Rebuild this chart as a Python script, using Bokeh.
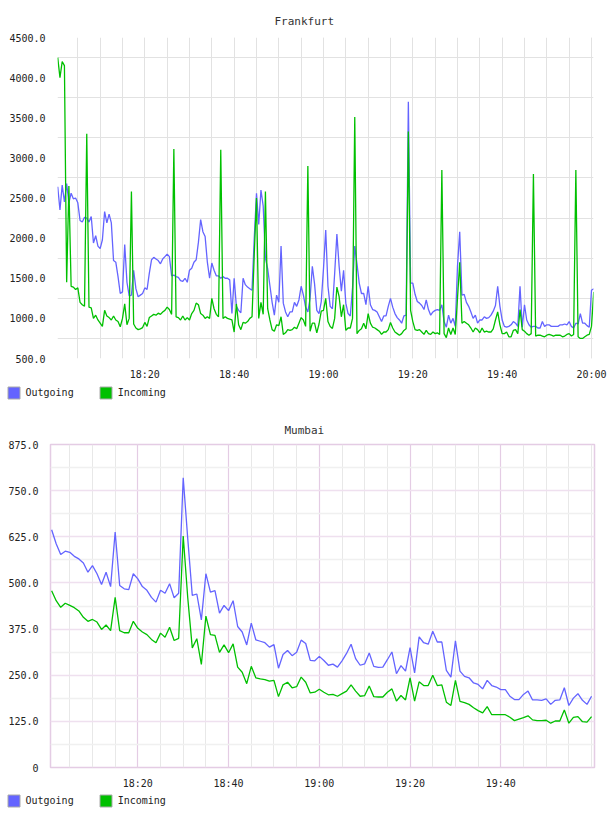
from bokeh.plotting import figure
from bokeh.models import FixedTicker, Range1d, Legend, LegendItem
from bokeh.layouts import column
from bokeh.embed import file_html
from bokeh.resources import INLINE

FONT = "DejaVu Sans Mono"
OUT_COLOR = "#6464ff"
INC_COLOR = "#00c000"

# ---- Frankfurt: samples every 30 s, minutes since midnight ----
fra_minutes = [18 * 60 + 0.5 + 0.5 * i for i in range(241)]
fra_outgoing = [
    2640, 2350, 2660, 2450, 2680, 2440, 2560, 2490, 2500, 2440,
    2220, 2200, 2260, 2250, 2200, 2270, 1940, 2030, 1900, 1870,
    1980, 2330, 2190, 2300, 2190, 1720, 1700, 1520, 1310, 1330,
    1920, 1450, 1280, 1290, 1600, 1370, 1270, 1290, 1310, 1380,
    1360, 1560, 1730, 1760, 1740, 1720, 1680, 1740, 1770, 1800,
    1770, 1530, 1540, 1520, 1510, 1470, 1460, 1500, 1450, 1600,
    1625, 1700, 1730, 1950, 2230, 2080, 2020, 1700, 1500, 1690,
    1600, 1530, 1530, 1500, 1520, 1500, 1500, 1480, 1060, 1500,
    1150, 1100, 1070, 1500, 1420, 1390, 1370, 1350, 2000, 2560,
    2170, 2600, 2400, 1750, 1620, 1410, 1200, 1040, 1290, 1200,
    1900, 1190, 1080, 1020, 1080, 1080, 1200, 1150, 1230, 1400,
    1290, 1140, 1080, 1250, 1650, 1430, 1100, 1060, 1210, 1620,
    2100, 1400, 1150, 1120, 1560, 2050, 1650, 1340, 1600, 1190,
    1060, 1030, 1380, 1900, 1680, 1440, 1310, 1310, 1170, 1400,
    1170, 1110, 1100, 1080, 1020, 960, 1030, 1030, 1150, 1250,
    1140, 1060, 1010, 980, 940, 1030, 1040, 3700, 1440, 1440,
    1300, 1210, 1190, 1160, 1110, 1230, 1110, 1040, 1080, 1100,
    1110, 1100, 1170, 960, 890, 1040, 940, 1000, 900, 1650,
    2080, 1290, 1300, 1200, 1150, 1080, 1000, 1040, 940, 980,
    980, 1020, 1000, 1010, 1040, 1090, 1160, 1400, 1150, 980,
    900, 890, 900, 920, 960, 940, 900, 1400, 890, 1170,
    980, 920, 890, 900, 900, 880, 880, 960, 900, 920,
    920, 900, 900, 900, 900, 920, 920, 930, 920, 960,
    900, 880, 940, 930, 1060, 940, 940, 910, 890, 1350,
    1370,
]
fra_incoming = [
    4250, 4000, 4200, 4150, 1450, 2650, 1400, 1390, 1360, 1380,
    1200, 1170, 1150, 3300, 1140, 1130, 1000, 1040, 980, 940,
    900, 1100, 1030, 1010, 980, 1030, 980, 960, 896, 1000,
    1180, 920, 1000, 2580, 930, 880, 860, 870, 885, 950,
    900, 1010, 1030, 1050, 1040, 1065, 1050, 1080, 1100, 1140,
    1110, 1050, 3110, 1020, 1010, 980, 1030, 980, 1010, 980,
    1060, 1100, 1190, 1170, 1060, 1040, 1000, 1020, 1000, 1250,
    1120, 1050, 1020, 3100, 1000, 1020, 1000, 990, 980, 830,
    1180, 920, 860, 950, 940, 960, 1000, 1020, 1800, 2500,
    1000, 1200, 1050, 2580, 1120, 980, 860, 840, 920, 910,
    1020, 800, 820, 860, 850, 860, 890, 870, 940, 1010,
    980, 900, 2900, 840, 940, 940, 820, 930, 1090, 1100,
    1250, 960, 900, 875, 1000, 1390, 1270, 1020, 1170, 850,
    880, 880, 1000, 3510, 810, 850, 870, 940, 870, 1060,
    940, 890, 880, 860, 840, 800, 830, 830, 860, 950,
    880, 830, 810, 790, 810, 850, 870, 3330, 1100, 960,
    860, 850, 860, 830, 800, 850, 810, 800, 830, 810,
    820, 800, 2850, 810, 760, 880, 800, 880, 800, 1250,
    1700, 940, 960, 940, 920, 880, 830, 880, 860, 820,
    880, 830, 840, 830, 830, 870, 980, 1080, 920, 810,
    810, 830, 770, 770, 850, 860, 810, 1110, 860, 840,
    810, 790, 810, 2800, 780, 790, 790, 780, 770, 790,
    800, 790, 780, 790, 790, 790, 770, 780, 800, 810,
    780, 800, 2850, 770, 750, 750, 770, 790, 800, 900,
    1330,
]

# ---- Mumbai: one sample per minute ----
mum_minutes = [18 * 60 + 1 + i for i in range(120)]
mum_outgoing = [
    644, 606, 577, 586, 583, 572, 565, 554, 529, 547,
    525, 496, 529, 490, 638, 493, 484, 482, 525, 511,
    490, 480, 461, 448, 480, 472, 498, 460, 472, 785,
    620, 466, 470, 400, 525, 475, 479, 418, 439, 425,
    452, 382, 367, 332, 391, 346, 342, 338, 326, 333,
    269, 306, 317, 303, 312, 345, 336, 290, 289, 301,
    290, 277, 280, 272, 289, 309, 334, 295, 277, 281,
    310, 274, 271, 272, 292, 313, 254, 276, 261, 325,
    256, 354, 338, 334, 369, 340, 340, 263, 245, 343,
    261, 247, 243, 229, 225, 213, 236, 222, 218, 211,
    211, 193, 184, 184, 198, 207, 183, 183, 182, 186,
    171, 182, 183, 216, 168, 188, 200, 182, 171, 193,
]
mum_incoming = [
    479, 452, 434, 445, 439, 433, 424, 407, 396, 401,
    394, 374, 386, 371, 461, 371, 365, 365, 396, 377,
    367, 360, 347, 338, 364, 353, 380, 344, 350, 627,
    460, 324, 349, 279, 410, 360, 358, 312, 332, 311,
    335, 272, 258, 227, 274, 243, 240, 238, 234, 236,
    192, 224, 231, 216, 219, 245, 231, 202, 204, 212,
    204, 197, 198, 193, 200, 207, 224, 207, 193, 195,
    221, 192, 191, 191, 204, 213, 180, 195, 183, 243,
    180, 232, 222, 222, 250, 222, 224, 177, 168, 236,
    179, 176, 171, 162, 154, 148, 165, 143, 143, 143,
    143, 136, 127, 131, 135, 140, 129, 127, 127, 128,
    120, 126, 126, 156, 120, 136, 138, 124, 123, 138,
]

# ---- axis ticks ----
time_ticks = [1100, 1120, 1140, 1160, 1180, 1200]
time_labels = ["18:20", "18:40", "19:00", "19:20", "19:40", "20:00"]
time_grid = list(range(1085, 1201, 5))

fra_y_ticks = [500, 1000, 1500, 2000, 2500, 3000, 3500, 4000, 4500]
fra_y_labels = ["500.0", "1000.0", "1500.0", "2000.0", "2500.0",
                "3000.0", "3500.0", "4000.0", "4500.0"]
fra_y_grid = [750, 1250, 1750, 2250, 2750, 3250, 3750, 4250]

mum_y_ticks = [0, 125, 250, 375, 500, 625, 750, 875]
mum_y_labels = ["0", "125.0", "250.0", "375.0", "500.0", "625.0", "750.0", "875.0"]
mum_y_grid = [62.5, 187.5, 312.5, 437.5, 562.5, 687.5, 812.5]

series_names = ["Outgoing", "Incoming"]
series_colors = [OUT_COLOR, INC_COLOR]


def traffic_chart(title, minutes, outgoing, incoming, x_range, y_range,
                  x_ticks, x_labels, y_ticks, y_labels, y_grid,
                  borders, frame, title_offset, title_standoff, framed):
    left, right, top, bottom = borders
    p = figure(frame_width=frame[0], frame_height=frame[1],
               x_range=Range1d(*x_range), y_range=Range1d(*y_range),
               output_backend="svg", toolbar_location=None,
               min_border_left=left, min_border_right=right,
               min_border_top=top, min_border_bottom=bottom,
               frame_align=False,
               background_fill_color="white", border_fill_color="white")

    p.title.text = title
    p.title.align = "left"
    p.title.offset = title_offset
    p.title.standoff = title_standoff
    p.title.text_font = FONT
    p.title.text_font_size = "11px"
    p.title.text_font_style = "normal"
    p.title.text_color = "#333333"

    xt = FixedTicker(ticks=x_ticks, minor_ticks=time_grid)
    yt = FixedTicker(ticks=y_ticks, minor_ticks=y_grid)
    p.xaxis.ticker = xt
    p.xgrid.ticker = xt
    p.yaxis.ticker = yt
    p.ygrid.ticker = yt
    p.xaxis.major_label_overrides = dict(zip(x_ticks, x_labels))
    p.yaxis.major_label_overrides = dict(zip(y_ticks, y_labels))

    for ax in (p.xaxis, p.yaxis):
        ax.axis_line_color = None
        ax.major_tick_line_color = None
        ax.minor_tick_line_color = None
        ax.major_label_text_font = FONT
        ax.major_label_text_font_size = "10px"
        ax.major_label_text_color = "#222222"
    p.xaxis.major_label_standoff = 4
    p.yaxis.major_label_standoff = 6

    if framed:
        pink = "#e4cce4"
        p.outline_line_color = pink
        p.outline_line_width = 1.5
        p.xgrid.grid_line_color = pink
        p.xgrid.grid_line_width = 1.2
        p.xgrid.minor_grid_line_color = "#e8e8e8"
        p.ygrid.grid_line_color = "#efe0ef"
        p.ygrid.grid_line_width = 1.6
        p.ygrid.minor_grid_line_color = "#f0f0f0"
        p.ygrid.minor_grid_line_width = 1.4
    else:
        p.outline_line_color = None
        p.xgrid.grid_line_color = "#e2e2e2"
        p.xgrid.minor_grid_line_color = "#e2e2e2"
        p.ygrid.grid_line_color = None
        p.ygrid.minor_grid_line_color = "#e2e2e2"

    p.line(minutes, outgoing, line_color=OUT_COLOR, line_width=1.3)
    p.line(minutes, incoming, line_color=INC_COLOR, line_width=1.3)
    return p


def legend_strip(height, y_offset):
    """A thin strip under a chart holding the series key."""
    s = figure(width=608, height=height, x_range=Range1d(0, 1),
               y_range=Range1d(0, 1), x_axis_type=None, y_axis_type=None,
               output_backend="svg", toolbar_location=None,
               min_border=0, outline_line_color=None, frame_align=False,
               background_fill_color="white", border_fill_color="white")
    s.xgrid.visible = False
    s.ygrid.visible = False
    items = []
    for name, color in zip(series_names, series_colors):
        # swatch renderer kept outside the strip's visible range;
        # only its legend sample is seen
        sw = s.quad(left=[2], right=[3], top=[3], bottom=[2],
                    fill_color=color, line_color="#aaaaaa")
        items.append(LegendItem(label=name, renderers=[sw]))
    legend = Legend(items=items, orientation="horizontal",
                    location=(5.5, y_offset),
                    glyph_width=15, glyph_height=15, label_height=15,
                    label_standoff=5, spacing=24, padding=0, margin=0,
                    border_line_color=None, background_fill_alpha=0,
                    label_text_font=FONT, label_text_font_size="10px",
                    label_text_color="#222222")
    s.add_layout(legend, "center")
    return s


frankfurt = traffic_chart(
    "Frankfurt", fra_minutes, fra_outgoing, fra_incoming,
    (1080.45, 1200.45), (500, 4500),
    time_ticks, time_labels, fra_y_ticks, fra_y_labels, fra_y_grid,
    borders=(57, 15, 37, 26), frame=(536, 321),
    title_offset=217, title_standoff=20, framed=False)

mumbai = traffic_chart(
    "Mumbai", mum_minutes, mum_outgoing, mum_incoming,
    (1080.75, 1200.65), (0, 875),
    time_ticks[:-1], time_labels[:-1], mum_y_ticks, mum_y_labels, mum_y_grid,
    borders=(50, 14, 34, 25), frame=(544, 323),
    title_offset=234, title_standoff=16, framed=True)

layout = column(frankfurt, legend_strip(26, 10.5),
                mumbai, legend_strip(24, 8.5), spacing=0)
open("out.html", "w").write(file_html(layout, INLINE))
